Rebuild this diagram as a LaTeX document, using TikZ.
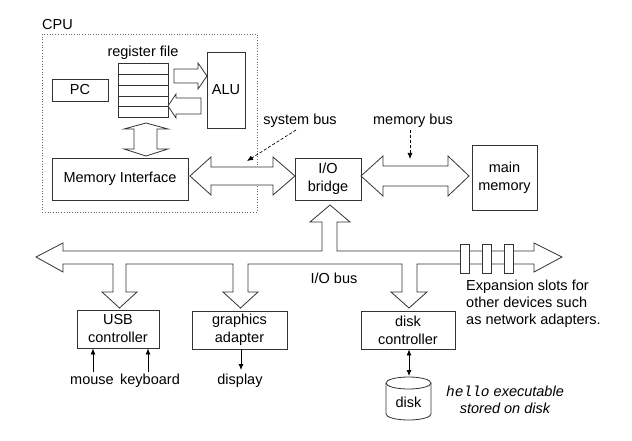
\documentclass[tikz,border=0pt]{standalone}
\usepackage{fontspec}
\setmainfont{Liberation Sans}
\setmonofont{Liberation Mono}[ItalicFont={Liberation Mono Italic}]
\usetikzlibrary{arrows.meta}
\begin{document}
\begin{tikzpicture}[x=1pt,y=-1pt,
  font=\fontsize{14.5}{18}\selectfont,
  box/.style={draw=black!80, line width=0.8pt, fill=white, align=center, inner sep=0pt},
  fat/.style={draw=black!80, line width=0.8pt, fill=white, line join=miter},
  lbl/.style={inner sep=0pt, anchor=base},
  thinarrow/.style={draw=black, line width=0.8pt, -{Latex[length=6pt,width=5pt]}},
  dasharrow/.style={draw=black, line width=0.7pt, dashed, dash pattern=on 3pt off 2pt, -{Latex[length=6pt,width=5pt]}}]
\useasboundingbox (0,0) rectangle (632,441);

% CPU region
\draw[black!60, line width=0.7pt, dotted] (42,34) rectangle (257,212);
\node[lbl, anchor=base west] (cpulbl) at (42,30) {CPU};
\node[lbl] (regfilelbl) at (143,57) {register file};

% register file
\draw[box] (118,63) rectangle (168,117);
\foreach \yy in {74,85,96,106} \draw[black!80, line width=0.8pt] (118,\yy) -- (168,\yy);

\node[box, minimum width=56pt, minimum height=22pt] (pc) at (80,90) {PC};
\node[box, minimum width=38pt, minimum height=76pt] (alu) at (226,90) {ALU};
\node[box, minimum width=136pt, minimum height=42pt] (mi) at (120,179) {Memory Interface};

% register -> ALU
\draw[fat] (174,69) -- (198,69) -- (198,63) -- (207,76) -- (198,89) -- (198,83) -- (174,83) -- cycle;
% ALU -> register
\draw[fat] (201,98) -- (176,98) -- (176,94) -- (168,106) -- (176,118) -- (176,114) -- (201,114) -- cycle;
% register <-> memory interface
\draw[fat] (146,123) -- (168,129) -- (157,129) -- (157,149) -- (168,149) -- (146,156) -- (124,149) -- (134,149) -- (134,129) -- (124,129) -- cycle;

% I/O bridge, main memory
\node[box, minimum width=66pt, minimum height=42pt] (bridge) at (328,179) {I/O\\bridge};
\node[box, minimum width=65pt, minimum height=65pt] (mem) at (504.5,177.5) {main\\memory};

% system bus
\draw[fat] (190,176) -- (211,157) -- (211,167) -- (273,167) -- (273,157) -- (295,176) -- (273,195) -- (273,185) -- (211,185) -- (211,195) -- cycle;
% memory bus
\draw[fat] (361,176) -- (383,156) -- (383,166) -- (448,166) -- (448,156) -- (469,176) -- (448,196) -- (448,186) -- (383,186) -- (383,196) -- cycle;

\node[lbl] (sysbus) at (300,125) {system bus};
\node[lbl] (membus) at (413,125) {memory bus};
\coordinate (sysbustail) at (296,130);
\coordinate (sysbustip) at (247,161);
\coordinate (membustail) at (410,130);
\coordinate (membustip) at (410,159);
\draw[dasharrow] (sysbustail) -- (sysbustip);
\draw[dasharrow] (membustail) -- (membustip);

% I/O bus
\draw[fat] (36,257) -- (63,243) -- (63,251) -- (322,251) -- (322,222) -- (310,222) -- (330,205) -- (350,222) -- (337,222) -- (337,251)
  -- (534,251) -- (534,243) -- (562,257) -- (534,272) -- (534,264)
  -- (417,264) -- (417,292) -- (427,292) -- (409,308) -- (391,292) -- (402,292) -- (402,264)
  -- (248,264) -- (248,292) -- (258,292) -- (240.5,308) -- (223,292) -- (233,292) -- (233,264)
  -- (126,264) -- (126,292) -- (137,292) -- (119.5,308) -- (102,292) -- (113,292) -- (113,264)
  -- (63,264) -- (63,272) -- cycle;
\foreach \xx in {460,482,504} \draw[fat] (\xx,244) rectangle ++(9,29);
\node[lbl] (iobus) at (334,283) {I/O bus};
\node[inner sep=0pt, anchor=north west, align=left, font=\fontsize{14.5}{17}\selectfont] (exp) at (466,279.4) {Expansion slots for\\other devices such\\as network adapters.};

% controllers
\node[box, minimum width=82pt, minimum height=38pt] (usb) at (118,329) {USB\\controller};
\node[box, minimum width=95pt, minimum height=38pt] (gfx) at (239.5,330) {graphics\\adapter};
\node[box, minimum width=94pt, minimum height=38pt] (dc) at (408,330) {disk\\controller};

\node[lbl] (mouse) at (92,384) {mouse};
\node[lbl] (kbd) at (150,384) {keyboard};
\node[lbl] (disp) at (240,384) {display};
\coordinate (mousetail) at (93,372);
\coordinate (kbdtail) at (148,372);
\coordinate (disptip) at (241,370);
\draw[thinarrow] (mousetail) -- (mousetail |- usb.south);
\draw[thinarrow] (kbdtail) -- (kbdtail |- usb.south);
\draw[thinarrow] (disptip |- gfx.south) -- (disptip);

% disk
\draw[black!80, line width=0.8pt, fill=white] (386,383) -- (386,414) arc[start angle=180, end angle=360, x radius=22.5, y radius=-6] -- (431,383);
\draw[black!80, line width=0.8pt, fill=white] (408.5,383) ellipse[x radius=22.5, y radius=6];
\node[lbl] (disk) at (408.5,407) {disk};
\coordinate (disktop) at (409,376);
\draw[draw=black, line width=0.8pt, {Latex[length=6pt,width=5pt]}-{Latex[length=6pt,width=5pt]}] (disktop |- dc.south) -- (disktop);

\node[lbl, font=\fontsize{14.5}{17}\selectfont\itshape] (hello1) at (505,396) {\texttt{hello} executable};
\node[lbl, font=\fontsize{14.5}{17}\selectfont\itshape] (hello2) at (505,413) {stored on disk};
\end{tikzpicture}
\end{document}
